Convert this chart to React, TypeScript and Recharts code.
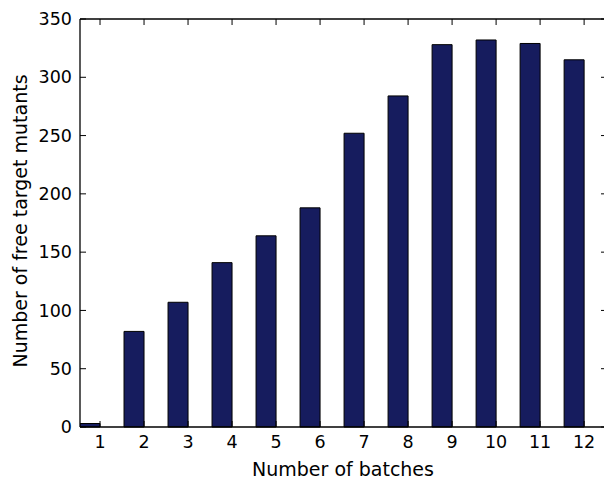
import { BarChart, Bar, XAxis, YAxis, Label, Rectangle, ReferenceLine } from 'recharts';

const batches = [1, 2, 3, 4, 5, 6, 7, 8, 9, 10, 11, 12];
const mutants = [3, 82, 107, 141, 164, 188, 252, 284, 328, 332, 329, 315];
const yTicks = [0, 50, 100, 150, 200, 250, 300, 350];

const data = batches.map((b, i) => ({ batch: b, mutants: mutants[i] }));

const FONT = '"DejaVu Sans", sans-serif';
const X_DOMAIN: [number, number] = [0.545, 12.52];
const Y_DOMAIN: [number, number] = [0, 350];

// plot box (from margins + axis sizes below)
const TOP = 19;
const BOTTOM = 427;
const LEFT = 80;
const RIGHT = 607;
const TICK = 6;

const axisStyle = { stroke: '#000', strokeWidth: 1.3 };

// matplotlib "edge" bars: bar ends at the tick
const EdgeBar = (p: any) => (
  <Rectangle x={p.x - p.width / 2} y={p.y} width={p.width} height={p.height}
    fill="#161c5e" stroke="#000" strokeWidth={1} />
);

// inward ticks on bottom and top
const XTick = ({ x, y, payload }: any) => (
  <g>
    <line x1={x} x2={x} y1={BOTTOM} y2={BOTTOM - TICK} stroke="#000" strokeWidth={1} />
    <line x1={x} x2={x} y1={TOP} y2={TOP + TICK} stroke="#000" strokeWidth={1} />
    <text x={x} y={y} dy="0.71em" textAnchor="middle" fontSize={17.5} fontFamily={FONT} fill="#000">
      {payload.value}
    </text>
  </g>
);

// inward ticks on left and right
const YTick = ({ x, y, payload }: any) => (
  <g>
    <line x1={LEFT} x2={LEFT + TICK} y1={y} y2={y} stroke="#000" strokeWidth={1} />
    <line x1={RIGHT - TICK} x2={RIGHT} y1={y} y2={y} stroke="#000" strokeWidth={1} />
    <text x={x} y={y} dy="0.355em" textAnchor="end" fontSize={17.5} fontFamily={FONT} fill="#000">
      {payload.value}
    </text>
  </g>
);

export default function App() {
  return (
    <div style={{ position: 'absolute', left: 0, top: 0, width: 604, height: 480, overflow: 'hidden', background: '#fff' }}>
      <BarChart width={610} height={480} data={data} margin={{ top: TOP, right: 610 - RIGHT, bottom: 0, left: 0 }}>
        <XAxis xAxisId="bottom" dataKey="batch" type="number" domain={X_DOMAIN} ticks={batches}
          allowDataOverflow interval={0} height={480 - BOTTOM} tickSize={0} tickMargin={9}
          axisLine={axisStyle} tickLine={false} tick={XTick}>
          <Label content={({ viewBox }: any) => (
            <text x={343} y={viewBox.y + 49} textAnchor="middle"
              fontSize={19} fontFamily={FONT} fill="#000">Number of batches</text>
          )} />
        </XAxis>
        <YAxis yAxisId="left" type="number" domain={Y_DOMAIN} ticks={yTicks} width={LEFT}
          tickSize={0} tickMargin={8} interval={0}
          axisLine={axisStyle} tickLine={false} tick={YTick}>
          <Label content={({ viewBox }: any) => {
            const cy = viewBox.y + viewBox.height / 2 - 2;
            return (
              <text x={20} y={cy} textAnchor="middle" dominantBaseline="central"
                transform={`rotate(-90, 20, ${cy})`}
                fontSize={19} fontFamily={FONT} fill="#000">Number of free target mutants</text>
            );
          }} />
        </YAxis>
        <Bar xAxisId="bottom" yAxisId="left" dataKey="mutants" barSize={20} shape={EdgeBar} isAnimationActive={false} />
        {/* top and right spines */}
        <ReferenceLine xAxisId="bottom" yAxisId="left" y={Y_DOMAIN[1]} stroke="#000" strokeWidth={1.3} ifOverflow="visible" />
        <ReferenceLine xAxisId="bottom" yAxisId="left" x={X_DOMAIN[1]} stroke="#000" strokeWidth={1.3} ifOverflow="visible" />
      </BarChart>
    </div>
  );
}
